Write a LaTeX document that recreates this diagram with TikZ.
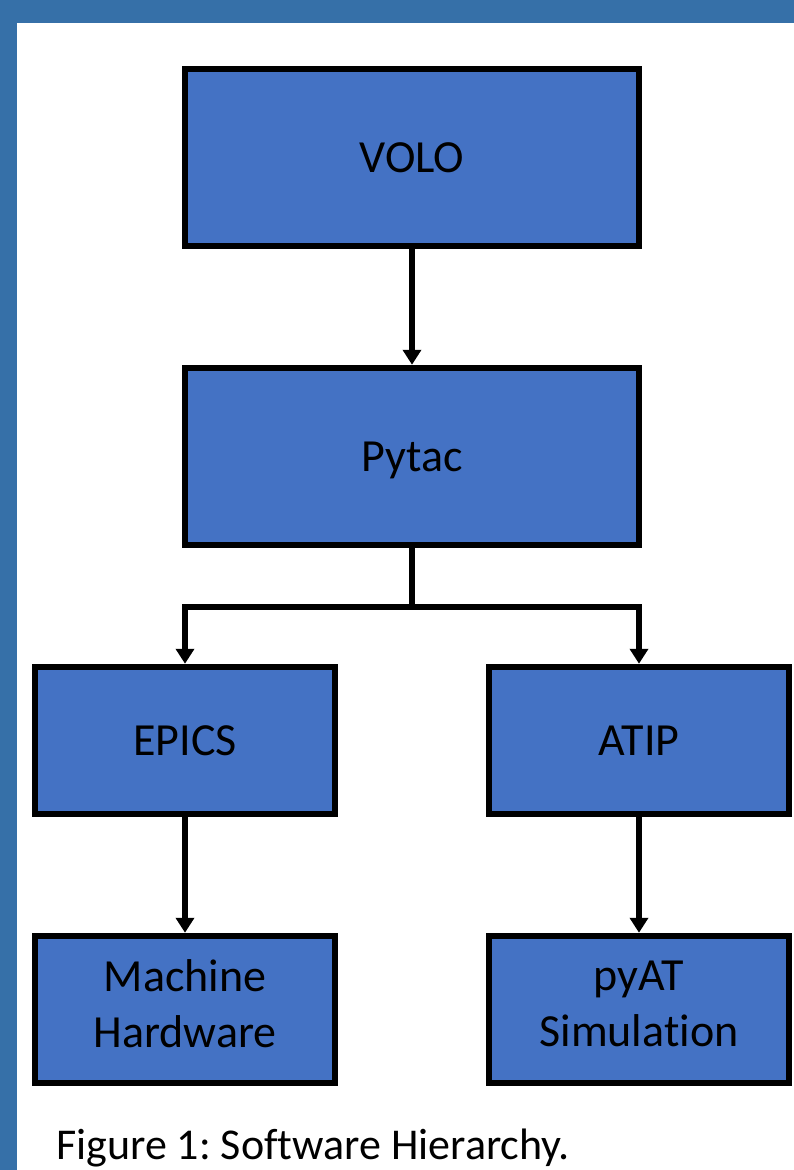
\documentclass[tikz,border=0pt]{standalone}
\usepackage{fontspec}
\setmainfont[Ligatures=NoCommon]{Carlito}
\usepackage{xcolor}
\usetikzlibrary{arrows.meta}
\frenchspacing

\definecolor{frameblue}{HTML}{3670A8}
\definecolor{boxblue}{HTML}{4472C4}

\tikzset{
    layer/.style={draw=black, line width=6.5pt, fill=boxblue, align=center,
        font=\fontsize{46}{56}\selectfont},
    bigbox/.style={layer, minimum width=454pt, minimum height=177pt},
    smallbox/.style={layer, minimum width=300pt, minimum height=147pt},
    twoline/.style={text depth=11pt},
    link/.style={line width=5.5pt, -{Triangle[length=15pt,width=18pt]}}
}

\begin{document}
\begin{tikzpicture}[x=1pt, y=-1pt]
    % Frame round the figure
    \useasboundingbox (0,0) rectangle (794,1170);
    \fill[frameblue] (0,0) rectangle (794,1170);
    \fill[white] (17,23) rectangle (794,1170);

    % Boxes
    \node[bigbox] (volo) at (412,157.5) {VOLO};
    \node[bigbox, text depth=0pt] (pytac) at (412,456.5) {Pytac};
    \node[smallbox] (epics) at (185,740.5) {EPICS};
    \node[smallbox] (atip) at (639,740.5) {ATIP};
    \node[smallbox, twoline] (hardware) at (185,1009.5) {Machine\\Hardware};
    \node[smallbox, twoline] (pyat) at (639,1009.5) {pyAT\\Simulation};

    % Connectors
    \coordinate (fork) at (412,607);
    \draw[link] (volo) -- (pytac);
    \draw[line width=5.5pt] (pytac.south) -- (fork);
    \draw[link] (fork) -| (epics.north);
    \draw[link] (fork) -| (atip.north);
    \draw[link] (epics) -- (hardware);
    \draw[link] (atip) -- (pyat);

    % Caption
    \node[anchor=base west, inner sep=0pt, font=\fontsize{44}{52}\selectfont]
        (caption) at (56,1159) {Figure 1: Software Hierarchy.};
\end{tikzpicture}
\end{document}
